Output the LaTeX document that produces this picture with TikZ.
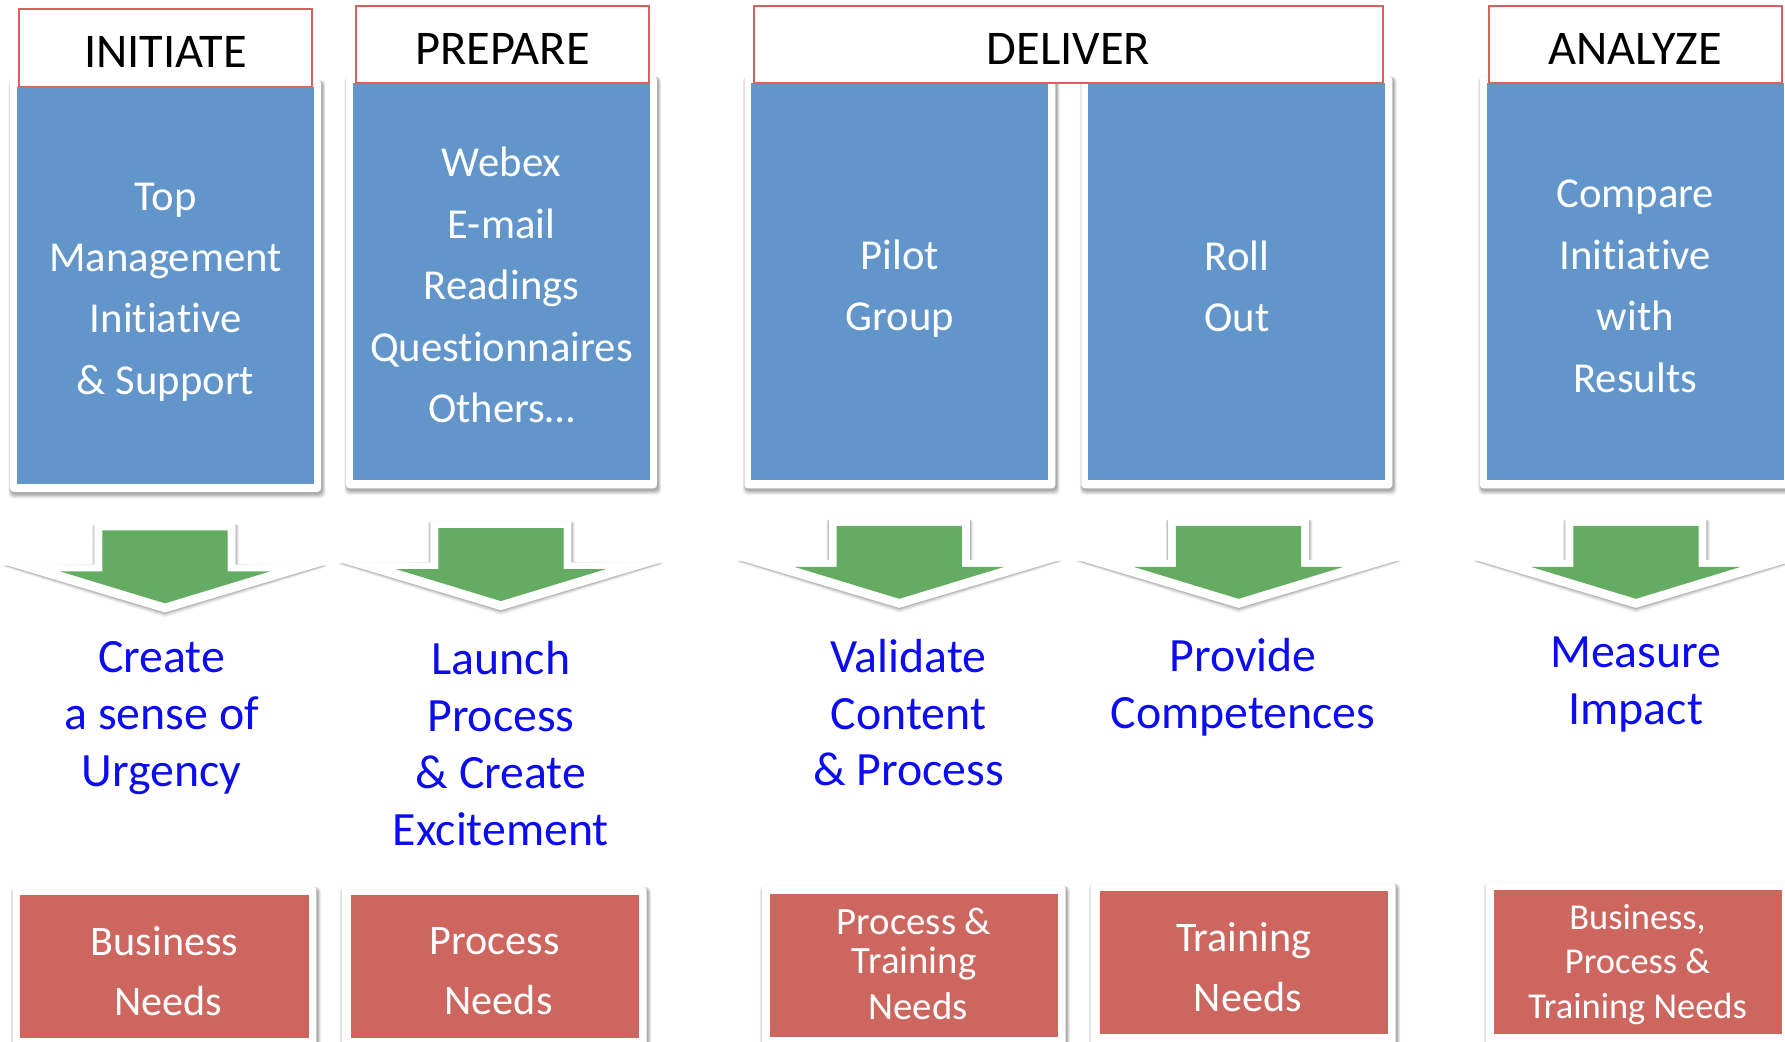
\documentclass[tikz,border=0pt]{standalone}
\usepackage{fontspec}
\setmainfont{Carlito}[Ligatures=NoCommon]
\definecolor{boxblue}{RGB}{98,149,201}
\definecolor{arrgreen}{RGB}{99,172,98}
\definecolor{needred}{RGB}{205,102,95}
\definecolor{hdrred}{RGB}{214,98,94}
\definecolor{txtblue}{RGB}{12,12,240}
\newcommand\framebg[4]{%
  \foreach \o/\op in {5/0.05,4/0.06,3/0.07,2/0.08,1/0.1}{%
    \fill[black,opacity=\op,rounded corners=4pt] (#1-\o*0.5+1,#2-\o*0.3+1.5) rectangle (#3+\o*0.6+1,#4+\o*0.9+1.5);}
  \fill[white,rounded corners=3pt] (#1,#2) rectangle (#3,#4);
}
\newcommand\downarr[2]{%
  \foreach \o/\op in {5/0.04,4/0.05,3/0.06,2/0.08,1/0.1}{%
    \fill[black,opacity=\op] (#1-62-\o*0.4,#2+\o*0.3) -- (#1+62+\o*0.6,#2+\o*0.3) -- (#1+62+\o*0.6,#2+36) -- (#1+141+\o*0.5,#2+36+\o*0.3) -- (#1,#2+78+\o*0.9) -- (#1-141-\o*0.5,#2+36+\o*0.3) -- (#1-62-\o*0.4,#2+36) -- cycle;}
  \fill[white] (#1-62,#2) -- (#1+62,#2) -- (#1+62,#2+36) -- (#1+141,#2+36) -- (#1,#2+78) -- (#1-141,#2+36) -- (#1-62,#2+36) -- cycle;
  \fill[arrgreen] (#1-55,#2+6) -- (#1+55,#2+6) -- (#1+55,#2+42) -- (#1+92,#2+42) -- (#1,#2+70) -- (#1-92,#2+42) -- (#1-55,#2+42) -- cycle;
}
\tikzset{
  hdr/.style={draw=hdrred,line width=1.6pt,fill=white,inner sep=0pt,minimum height=68pt,text height=35pt,text depth=0pt,font=\fontsize{42.5}{50}\selectfont,text=black},
  bluebox/.style={fill=boxblue,inner sep=0pt,minimum width=261pt,minimum height=349pt},
  bluetxt/.style={align=center,text=white,inner sep=0pt,font=\fontsize{37.5}{54}\selectfont},
  redbox/.style={fill=needred,inner sep=0pt,minimum width=253pt,minimum height=126pt},
  redtxt/.style={align=center,text=white,inner sep=0pt,font=\fontsize{37}{53}\selectfont},
  goal/.style={align=center,text=txtblue,inner sep=0pt,font=\fontsize{42}{50}\selectfont}
}
\begin{document}
\begin{tikzpicture}[x=1pt,y=-1pt]
\useasboundingbox (0,0) rectangle (1568,915);
\fill[white] (0,0) rectangle (1568,915);
% frames of blue boxes
\framebg{9}{70}{282}{432}
\framebg{304}{67}{577}{429}
\framebg{654}{67}{927}{429}
\framebg{950}{67}{1223}{429}
\framebg{1300}{67}{1573}{429}
% blue boxes
\node[bluebox,label={[bluetxt,yshift=-6pt]center:{Top\\Management\\Initiative\\\& Support}}] (b1) at (145.5,250.5) {};
\node[bluebox,label={[bluetxt,yshift=-3pt]center:{Webex\\E-mail\\Readings\\Questionnaires\\Others…}}] (b2) at (440.5,247.5) {};
\node[bluebox,label={[bluetxt,yshift=-6pt]center:{Pilot\\Group}}] (b3) at (790.5,247.5) {};
\node[bluebox,label={[bluetxt,yshift=-4pt]center:{Roll\\Out}}] (b4) at (1086.5,247.5) {};
\node[bluebox,label={[bluetxt,yshift=-4pt]center:{Compare\\Initiative\\with\\Results}}] (b5) at (1436.5,247.5) {};
% headers
\node[hdr,minimum width=257pt] (h1) at (145.5,42) {INITIATE};
\node[hdr,minimum width=257pt] (h2) at (441.5,39) {PREPARE};
\node[hdr,minimum width=553pt] (h3) at (938.5,39) {DELIVER};
\node[hdr,minimum width=257pt] (h5) at (1436.5,39) {ANALYZE};
% arrows
\downarr{145}{460}
\downarr{440}{458}
\downarr{790}{456}
\downarr{1088}{456}
\downarr{1437}{456}
% goals
\node[goal] (g1) at (142,631) {Create\\a sense of\\Urgency};
\node[goal] (g2) at (440,653) {Launch\\Process\\\& Create\\Excitement};
\node[goal] (g3) at (798,626) {Validate\\Content\\\& Process};
\node[goal] (g4) at (1092,604) {Provide\\Competences};
\node[goal] (g5) at (1437,601) {Measure\\Impact};
% frames of red boxes
\framebg{11}{779}{278}{925}
\framebg{300}{779}{568}{925}
\framebg{669}{778}{936}{925}
\framebg{958}{776}{1226}{925}
\framebg{1305}{775}{1573}{925}
% red boxes
\node[redbox,label={[redtxt,yshift=-4pt]center:{Business\\\hspace*{7pt}Needs}}] (r1) at (144.5,849) {};
\node[redbox,label={[redtxt,yshift=-4pt]center:{Process\\\hspace*{7pt}Needs}}] (r2) at (434.5,849) {};
\node[redbox,label={[redtxt,yshift=1pt,font=\fontsize{34}{34}\selectfont]center:{Process \&\\Training\\[7pt]\hspace*{7pt}Needs}}] (r3) at (803,848) {};
\node[redbox,label={[redtxt,yshift=-4pt]center:{Training\\\hspace*{7pt}Needs}}] (r4) at (1092.5,845.5) {};
\node[redbox,label={[redtxt,yshift=-2pt,font=\fontsize{32}{39}\selectfont]center:{Business,\\Process \&\\Training Needs}}] (r5) at (1438.5,845) {};
\end{tikzpicture}
\end{document}
